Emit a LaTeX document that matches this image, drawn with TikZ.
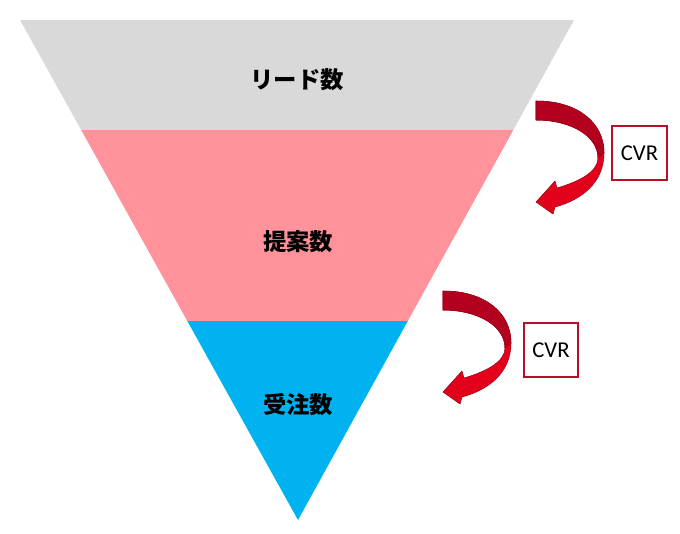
\documentclass[tikz,border=0pt]{standalone}
\usepackage{fontspec}
\newfontfamily\cjk{Noto Sans CJK JP}
\newfontfamily\cvrfont{Carlito}
\definecolor{fgray}{HTML}{D9D9D9}
\definecolor{fpink}{HTML}{FF929B}
\definecolor{fblue}{HTML}{00B2F0}
\definecolor{boxred}{HTML}{B5122A}
\definecolor{ardark}{HTML}{B3001E}
\definecolor{arbright}{HTML}{E2001A}
\definecolor{aredge}{HTML}{9E0018}
\tikzset{
  stagelabel/.style={font=\cjk\bfseries\fontsize{17.5}{20}\selectfont, text=black, inner sep=0pt},
  cvrbox/.style={draw=boxred, line width=1.5pt, minimum width=41pt, minimum height=40pt, inner sep=0pt, font=\cvrfont\fontsize{17}{20}\selectfont, text=black},
}
\newcommand{\curvedarrow}[2]{%
  \begin{scope}[shift={(#1,#2)}]
    \fill[arbright, draw=aredge, line width=0.4pt, line join=round]
      (0,0) .. controls (42,0) and (68,22) .. (68,52)
      .. controls (68,82) and (45,99) .. (19,106)
      -- (17,113) -- (0,101) -- (19,80) -- (21,87)
      .. controls (45,80) and (62,70) .. (62,57)
      .. controls (62,35) and (35,19) .. (0,19) -- cycle;
    \fill[ardark, draw=aredge, line width=0.4pt, line join=round]
      (0,0) .. controls (42,0) and (68,22) .. (68,52)
      -- (62,57)
      .. controls (62,35) and (35,19) .. (0,19) -- cycle;
  \end{scope}}
\begin{document}
\begin{tikzpicture}[x=0.75pt, y=-0.75pt]
  \useasboundingbox (0,0) rectangle (680,533);
  % funnel bands
  \fill[fgray] (20,20) -- (574,20) -- (513.3,130) -- (81.2,130) -- cycle;
  \fill[fpink] (81.2,130) -- (513.3,130) -- (407.8,321) -- (187.3,321) -- cycle;
  \fill[fblue] (187.3,321) -- (407.8,321) -- (298,520) -- cycle;
  % labels
  \node[stagelabel] (lead) at (297,80) {リード数};
  \node[stagelabel] (prop) at (298,242) {提案数};
  \node[stagelabel] (order) at (298,405) {受注数};
  % arrows
  \curvedarrow{536}{101}
  \curvedarrow{443}{291}
  % CVR boxes
  \node[cvrbox] (cvr1) at (639.5,153) {CVR};
  \node[cvrbox] (cvr2) at (551,350) {CVR};
\end{tikzpicture}
\end{document}
